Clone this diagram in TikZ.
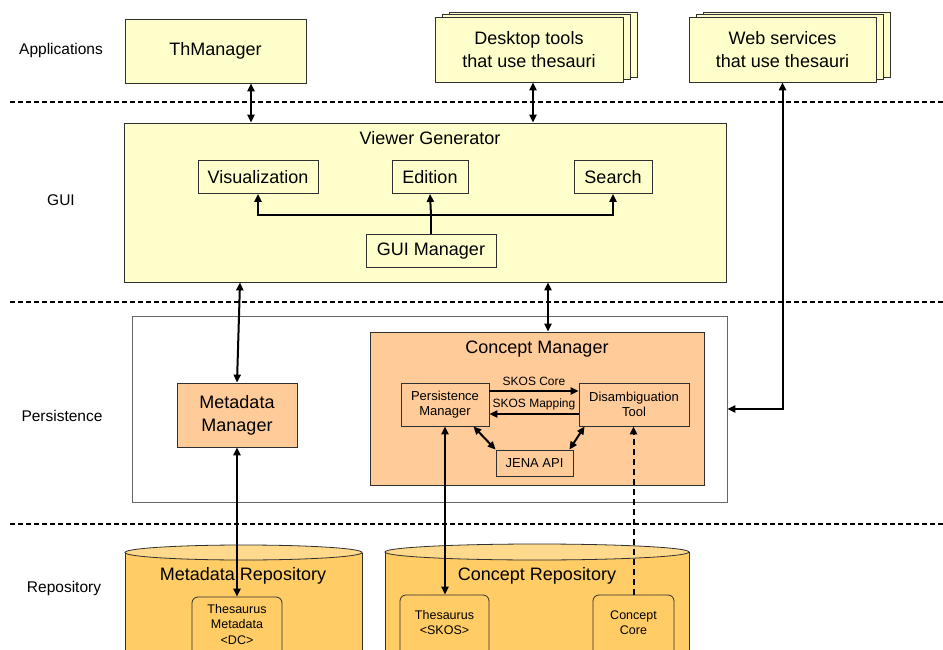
\documentclass[tikz,border=0pt]{standalone}
\usepackage{fontspec}
\setmainfont{Liberation Sans}
\usetikzlibrary{arrows.meta,calc}

\definecolor{guiyellow}{HTML}{FFFFCC}
\definecolor{mgrorange}{HTML}{FFCC99}
\definecolor{repogold}{HTML}{FFCC66}
\definecolor{repotop}{HTML}{FFD98C}
\definecolor{edge}{HTML}{303030}

\tikzset{
  big/.style={font=\fontsize{18}{23}\selectfont},
  mid/.style={font=\fontsize{13}{14.5}\selectfont},
  tiny/.style={font=\fontsize{12}{15.5}\selectfont},
  repotxt/.style={font=\fontsize{12.5}{15.5}\selectfont, align=center},
  layertxt/.style={font=\fontsize{15.5}{18}\selectfont},
  box/.style={draw=edge, line width=0.8pt, inner sep=0pt, align=center},
  link/.style={line width=2pt, -{Triangle[length=8pt,width=7pt]}},
  dlink/.style={line width=2pt, {Triangle[length=8pt,width=7pt]}-{Triangle[length=8pt,width=7pt]}},
  dashlink/.style={line width=2pt, dash pattern=on 6pt off 4pt, -{Triangle[length=8pt,width=7pt]}},
  layer/.style={dash pattern=on 5pt off 3pt, line width=1.2pt},
  repobox/.style={box, fill=repogold, rounded corners=6pt},
}

\begin{document}
\begin{tikzpicture}[x=1pt,y=-1pt]
\useasboundingbox (0,0) rectangle (943,650);
\clip (0,0) rectangle (943,650);

% layer separators
\draw[layer] (10,102) -- (943,102);
\draw[layer] (10,302) -- (943,302);
\draw[layer] (10,524) -- (943,524);

% layer names
\node[layertxt] (lapp) at (61,50) {Applications};
\node[layertxt] (lgui) at (61,200) {GUI};
\node[layertxt] (lper) at (62,416) {Persistence};
\node[layertxt] (lrep) at (64,588) {Repository};

% applications
\node[box, big, fill=guiyellow, minimum width=181pt, minimum height=64pt] (thm) at (215.5,51) {ThManager};

\node[box, fill=guiyellow, minimum width=188pt, minimum height=65pt] (desk3) at (543,44.5) {};
\node[box, fill=guiyellow, minimum width=188pt, minimum height=65pt] (desk2) at (536,47) {};
\node[box, big, fill=guiyellow, minimum width=188pt, minimum height=65pt] (desk) at (529,49.5) {Desktop tools\\that use thesauri};

\node[box, fill=guiyellow, minimum width=187pt, minimum height=65pt] (web3) at (796.5,44.5) {};
\node[box, fill=guiyellow, minimum width=187pt, minimum height=65pt] (web2) at (789.5,47) {};
\node[box, big, fill=guiyellow, minimum width=187pt, minimum height=65pt] (web) at (782.5,49.5) {Web services\\that use thesauri};

% GUI layer
\node[box, fill=guiyellow, minimum width=602pt, minimum height=159pt] (vg) at (425,202.5) {};
\node[big] (vgtitle) at (430,138) {Viewer Generator};
\node[box, big, minimum width=120pt, minimum height=33pt] (vis) at (258,177) {Visualization};
\node[box, big, minimum width=76pt, minimum height=33pt] (edi) at (430,177) {Edition};
\node[box, big, minimum width=78pt, minimum height=33pt] (sea) at (613,177) {Search};
\node[box, big, minimum width=130pt, minimum height=33pt] (guim) at (431,251) {GUI Manager};

\coordinate (bus) at (431,215);
\draw[line width=2pt] (guim.north) -- (bus);
\draw[link] (bus) -- (edi.south);
\draw[link] (bus) -| (vis.south);
\draw[link] (bus) -| (sea.south);

% persistence layer
\node[draw=black!60, line width=0.8pt, fill=white, minimum width=595pt, minimum height=186pt, inner sep=0pt] (pers) at (429.5,409) {};
\node[box, big, fill=mgrorange, minimum width=120pt, minimum height=64pt] (mm) at (237,415) {Metadata\\Manager};
\node[box, fill=mgrorange, minimum width=334pt, minimum height=153pt] (cm) at (537,408.5) {};
\node[big] (cmtitle) at (537,349) {Concept Manager};
\node[box, mid, minimum width=88pt, minimum height=43pt] (pm) at (445,404.5) {Persistence\\Manager};
\node[box, mid, minimum width=110pt, minimum height=43pt] (dt) at (634,404.5) {Disambiguation\\Tool};
\node[box, mid, minimum width=77pt, minimum height=26pt] (jena) at (534.5,463) {JENA API};

\draw[link] ([yshift=13.5pt]pm.east) -- ([yshift=13.5pt]dt.west)
  node[midway, above=1pt, tiny] (core) {SKOS Core};
\draw[link] ([yshift=-9.5pt]dt.west) -- ([yshift=-9.5pt]pm.east)
  node[midway, above=0pt, tiny] (map) {SKOS Mapping};
\draw[dlink] ([xshift=-16pt]pm.south east) -- (jena.north west);
\draw[dlink] ([xshift=6pt]dt.south west) -- ([xshift=-4pt]jena.north east);

% repository layer: metadata cylinder
\fill[repogold] (125,552.5) rectangle (362,670);
\draw[edge, line width=0.8pt] (125,552.5) -- (125,670) (362,552.5) -- (362,670);
\draw[edge, line width=0.8pt, fill=repotop] (243.5,552.5) ellipse [x radius=118.5pt, y radius=7.5pt];
\node[big] (mrtitle) at (243,576) {Metadata Repository};

% repository layer: concept cylinder
\fill[repogold] (385,552) rectangle (689,670);
\draw[edge, line width=0.8pt] (385,552) -- (385,670) (689,552) -- (689,670);
\draw[edge, line width=0.8pt, fill=repotop] (537,552) ellipse [x radius=152pt, y radius=8pt];
\node[big] (crtitle) at (537,576) {Concept Repository};

% repository contents
\node[repobox, minimum width=90pt, minimum height=73pt] (tmeta) at (237,633.5) {};
\node[repotxt] (tmetatxt) at (237,624.5) {Thesaurus\\Metadata\\<DC>};
\node[repobox, minimum width=89pt, minimum height=75pt] (tskos) at (444.5,632.5) {};
\node[repotxt] (tskostxt) at (444.5,622.5) {Thesaurus\\<SKOS>};
\node[repobox, minimum width=81pt, minimum height=75pt] (ccore) at (633.5,632.5) {};
\node[repotxt] (ccoretxt) at (633.5,622.5) {Concept\\Core};

% connectors between layers
\draw[dlink] (thm.south -| 251,0) -- (vg.north -| 251,0);
\draw[dlink] (desk.south -| 533,0) -- (vg.north -| 533,0);
\draw[dlink] (web.south) |- (pers.east);
\draw[dlink] ([xshift=3pt]mm.north |- vg.south) -- (mm.north);
\draw[dlink] ([xshift=11pt]cm.north |- vg.south) -- ([xshift=11pt]cm.north);
\draw[dlink] (mm.south) -- (tmeta.north);
\draw[dlink] (pm.south) -- (pm.south |- tskos.north);
\draw[dashlink] (ccore.north) -- (ccore.north |- dt.south);
\end{tikzpicture}
\end{document}
